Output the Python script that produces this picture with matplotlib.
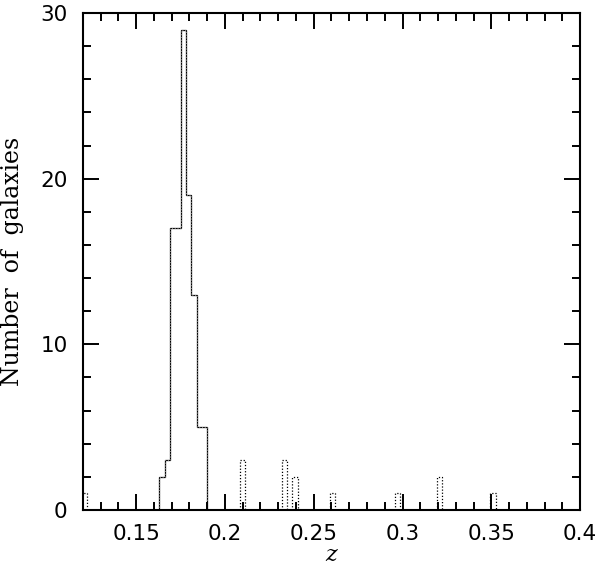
import matplotlib
matplotlib.use("Agg")
import matplotlib.pyplot as plt
from matplotlib.ticker import MultipleLocator, FixedFormatter, FixedLocator
import numpy as np

# Cluster members (solid histogram), bin width 0.003
cluster_edges = [0.1631, 0.1661, 0.1691, 0.1721, 0.1751, 0.1781, 0.1811, 0.1841, 0.1871, 0.1901]
cluster_counts = [2, 3, 17, 17, 29, 19, 13, 5, 5]

# All galaxies (dotted histogram): extra non-member bins (left edge, count)
field_left = [0.1195, 0.2083, 0.2320, 0.2380, 0.2590, 0.2958, 0.3195, 0.3495]
field_counts = [1, 3, 3, 2, 1, 1, 2, 1]
bin_width = 0.003

xticks = [0.15, 0.2, 0.25, 0.3, 0.35, 0.4]
xticklabels = ["0.15", "0.2", "0.25", "0.3", "0.35", "0.4"]
yticks = [0, 10, 20, 30]

plt.rcParams['font.family'] = ['DejaVu Sans']

fig = plt.figure(figsize=(6.0, 5.69), dpi=100)
ax = fig.add_axes([0.1383, 0.1037, 0.9667 - 0.1383, 0.9772 - 0.1037])

# Solid: cluster
ax.stairs(cluster_counts, cluster_edges, color='black', lw=0.9, baseline=0)

# Dotted: all galaxies = cluster + field bins
for left, c in zip(field_left, field_counts):
    ax.stairs([c], [left, left + bin_width], color='black', lw=0.9,
              linestyle=(0, (1, 1.5)), baseline=0)
ax.stairs(cluster_counts, cluster_edges, color='gray', lw=0.8,
          linestyle=(0, (1, 1.5)), baseline=0)

ax.set_xlim(0.12, 0.4)
ax.set_ylim(0, 30)

ax.xaxis.set_major_locator(FixedLocator(xticks))
ax.xaxis.set_major_formatter(FixedFormatter(xticklabels))
ax.xaxis.set_minor_locator(MultipleLocator(0.01))
ax.yaxis.set_major_locator(FixedLocator(yticks))
ax.yaxis.set_minor_locator(MultipleLocator(2))

ax.tick_params(which='both', direction='in', top=True, right=True, width=1.4,
               labelsize=15.5, colors='black')
ax.tick_params(which='major', length=11.5)
ax.tick_params(which='minor', length=5.8)
ax.tick_params(axis='x', which='major', pad=10)
ax.tick_params(axis='y', which='major', pad=11)
for s in ax.spines.values():
    s.set_linewidth(1.5)

ax.set_xlabel("z", fontsize=16, family='DejaVu Serif', style='italic', labelpad=0)
ax.set_ylabel("Number  of  galaxies", fontsize=17, family='DejaVu Serif', labelpad=12)

fig.savefig("out.png", dpi=100)
